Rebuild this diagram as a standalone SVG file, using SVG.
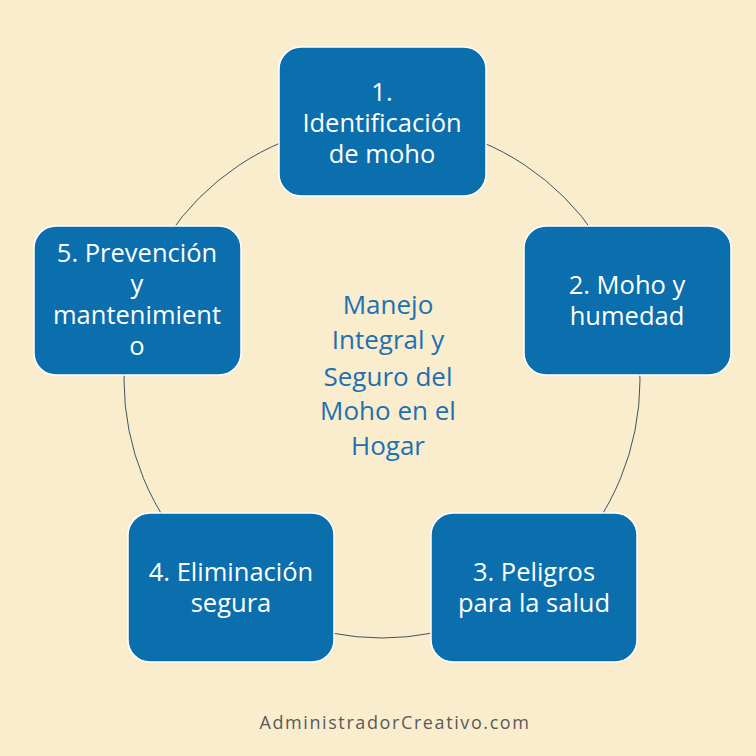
<svg xmlns="http://www.w3.org/2000/svg" width="756" height="756" viewBox="0 0 756 756">
<defs>
<style>
.box{fill:#0B6EAD;stroke:#ffffff;stroke-width:1.5}
.bt{font-family:"Open Sans","Liberation Sans",sans-serif;font-size:25.5px;fill:#ffffff;text-anchor:middle}
.ct{font-family:"Open Sans","Liberation Sans",sans-serif;font-size:26px;fill:#2170B2;text-anchor:middle}
.conn{fill:none;stroke:#3C5566;stroke-width:1}
.ft{font-family:"Open Sans","Liberation Sans",sans-serif;font-size:18px;fill:#5A5A5A;text-anchor:middle;letter-spacing:1.6px}
</style>
</defs>
<rect width="756" height="756" fill="#FAEDCD"/>
<g id="connectors">
<circle class="conn" cx="382" cy="380" r="258"/>
</g>
<g id="node1">
<rect class="box" x="279" y="47" width="207" height="149" rx="22"/>
<text class="bt" x="382" y="101">1.</text>
<text class="bt" x="382" y="132">Identificación</text>
<text class="bt" x="382" y="163">de moho</text>
</g>
<g id="node2">
<rect class="box" x="524" y="226" width="207" height="149" rx="22"/>
<text class="bt" x="627" y="294">2. Moho y</text>
<text class="bt" x="627" y="325">humedad</text>
</g>
<g id="node3">
<rect class="box" x="431" y="513" width="206" height="149" rx="22"/>
<text class="bt" x="534" y="581">3. Peligros</text>
<text class="bt" x="534" y="612">para la salud</text>
</g>
<g id="node4">
<rect class="box" x="128" y="513" width="206" height="149" rx="22"/>
<text class="bt" x="231" y="581">4. Eliminación</text>
<text class="bt" x="231" y="612">segura</text>
</g>
<g id="node5">
<rect class="box" x="34" y="226" width="207" height="149" rx="22"/>
<text class="bt" x="137" y="262">5. Prevención</text>
<text class="bt" x="137" y="293">y</text>
<text class="bt" x="137" y="324">mantenimient</text>
<text class="bt" x="137" y="355">o</text>
</g>
<g id="center">
<text class="ct" x="388" y="314">Manejo</text>
<text class="ct" x="388" y="349">Integral y</text>
<text class="ct" x="388" y="386">Seguro del</text>
<text class="ct" x="388" y="420">Moho en el</text>
<text class="ct" x="388" y="455">Hogar</text>
</g>
<text class="ft" x="395" y="729">AdministradorCreativo.com</text>
</svg>
